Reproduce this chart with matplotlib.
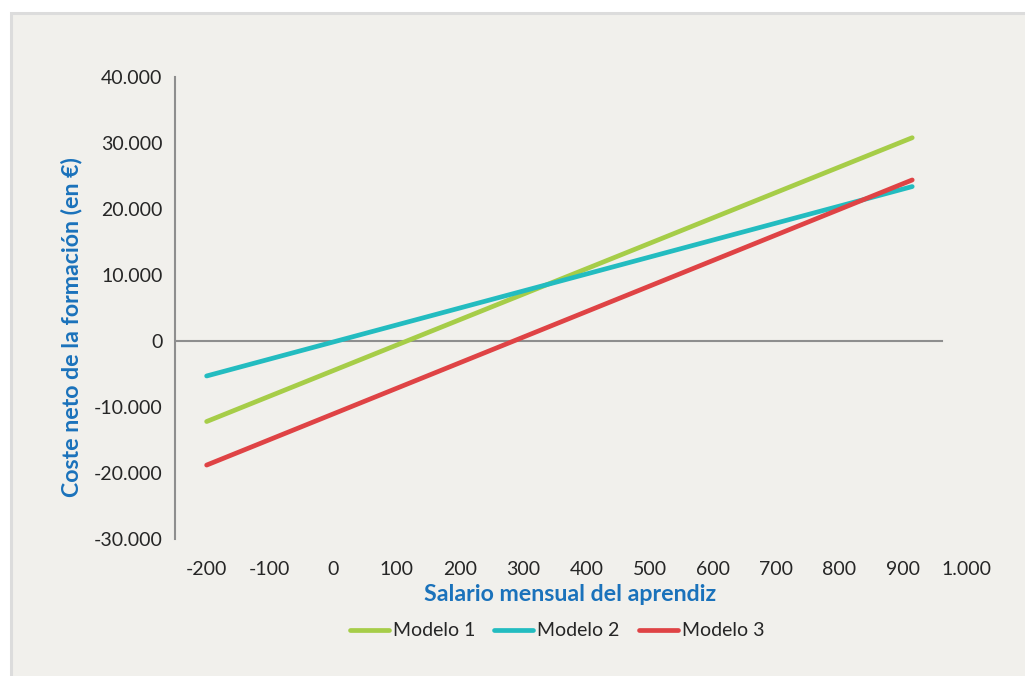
import matplotlib
matplotlib.use("Agg")
import matplotlib.pyplot as plt
from matplotlib.patches import Rectangle
from matplotlib.ticker import FuncFormatter

# Monthly apprentice salary (EUR) at the start and end of each model line
salario = [-200, 915]

# Net training cost (EUR) for each model
modelo_1 = [-12200, 30800]
modelo_2 = [-5300, 23400]
modelo_3 = [-18800, 24400]

series_names = ["Modelo 1", "Modelo 2", "Modelo 3"]
series_colors = ["#a6cd48", "#23bcc0", "#df4345"]

x_ticks = [-200, -100, 0, 100, 200, 300, 400, 500, 600, 700, 800, 900, 1000]
y_ticks = [-30000, -20000, -10000, 0, 10000, 20000, 30000, 40000]

FONT = ["Lato", "DejaVu Sans"]
plt.rcParams["font.family"] = FONT

W, H = 1025, 676
fig = plt.figure(figsize=(W / 100, H / 100), dpi=100)
fig.patch.set_facecolor("white")

# Panel with light border
fig.patches.append(Rectangle((11 / W, -0.05), 1.0, 1.05 - 13 / H, transform=fig.transFigure,
                             facecolor="#f1f0ec", edgecolor="#dcdcdc", linewidth=2.2,
                             zorder=-5))

left, right, top, bottom = 175, 966, 77, 539
ax = fig.add_axes([left / W, 1 - bottom / H, (right - left) / W, (bottom - top) / H])
ax.set_facecolor("none")
ax.set_zorder(2)

for name, vals, col in zip(series_names, [modelo_1, modelo_2, modelo_3], series_colors):
    ax.plot(salario, vals, color=col, lw=3.4, solid_capstyle="round", label=name, zorder=3)

ax.set_xlim(-250, 1000)
ax.set_ylim(-30000, 40000)

# Zero reference line
ax.axhline(0, xmin=0, xmax=(962 + 250) / 1250, color="#8e8e8e", lw=1.5, zorder=2)

for s in ["top", "right", "bottom"]:
    ax.spines[s].set_visible(False)
ax.spines["left"].set_color("#8e8e8e")
ax.spines["left"].set_linewidth(1.5)

def miles(v, pos=None):
    v = int(round(v))
    s = f"{abs(v):,}".replace(",", ".")
    return ("-" if v < 0 else "") + s

ax.set_xticks(x_ticks)
ax.set_yticks(y_ticks)
ax.xaxis.set_major_formatter(FuncFormatter(miles))
ax.yaxis.set_major_formatter(FuncFormatter(miles))
ax.tick_params(axis="both", length=0, labelsize=14, labelcolor="#262626")
ax.tick_params(axis="x", pad=16)
ax.tick_params(axis="y", pad=9)

ax.set_ylabel("Coste neto de la formación (en €)", fontsize=16.7, fontweight="bold",
              color="#1a72bb")
ax.yaxis.set_label_coords(-0.117, 0.459)
ax.set_xlabel("Salario mensual del aprendiz", fontsize=16.7, fontweight="bold",
              color="#1a72bb", labelpad=4)

leg = fig.legend(loc="center", bbox_to_anchor=(557 / W, 1 - 631 / H), ncol=3,
                 frameon=False, fontsize=14, handlelength=2.0, handletextpad=0.2,
                 columnspacing=1.0)
for t in leg.get_texts():
    t.set_color("#262626")

fig.savefig("out.png", dpi=100, facecolor=fig.get_facecolor())
